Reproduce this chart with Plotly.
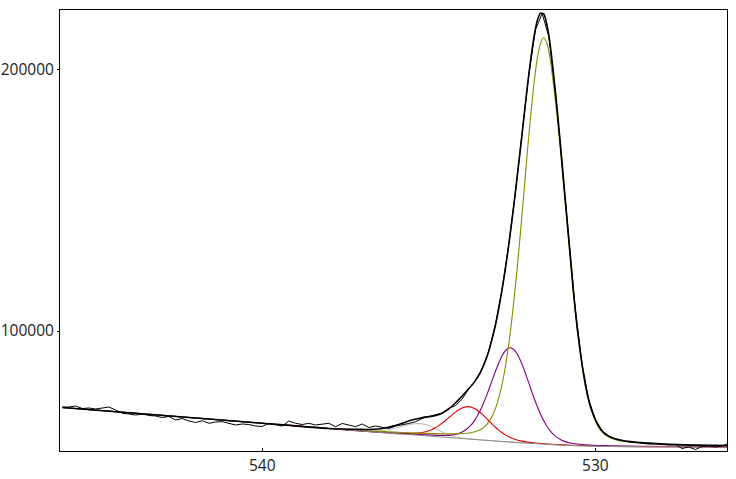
import plotly.graph_objects as go

# ---- Data (binding energy in eV, intensity in counts) ----
bg_E = [546.0, 544.0, 542.0, 540.0, 538.0, 536.0, 535.0, 534.0, 533.0, 532.0, 531.0, 530.0, 529.0, 528.0, 526.0]
bg_I = [70770, 68780, 66760, 64770, 62750, 60760, 59880, 58930, 57950, 57100, 56350, 55950, 55820, 55750, 55680]

# component 1 (olive, ~531.5 eV)
c1_E = [546.0, 540.0, 538.0, 536.05, 535.55, 535.05, 534.55, 534.15, 533.95, 533.75,
        533.55, 533.45, 533.35, 533.25, 533.15, 533.05, 532.95, 532.85, 532.75, 532.65,
        532.55, 532.45, 532.35, 532.25, 532.15, 532.05, 531.95, 531.85, 531.75, 531.65,
        531.55, 531.45, 531.35, 531.25, 531.15, 531.05, 530.95, 530.85, 530.75, 530.65,
        530.55, 530.45, 530.35, 530.25, 530.15, 530.05, 529.95, 529.85, 529.75, 529.65,
        529.55, 529.35, 529.15, 528.95, 528.55, 528.05, 527.55, 527.05, 526.05]
c1_I = [70770, 64770, 62750, 61380, 61090, 60880, 60720, 60730, 60810, 61140,
        61780, 62350, 63200, 64460, 66240, 68780, 72260, 76920, 82900, 90570,
        99970, 111060, 123710, 137600, 152270, 167250, 181300, 193810, 203670, 209810,
        212060, 209660, 203370, 193360, 182000, 169000, 155000, 141000, 127000, 113000,
        101000, 91000, 82500, 75800, 70700, 67170, 64340, 62190, 60830, 59860,
        59180, 58310, 57770, 57480, 57060, 56700, 56470, 56300, 56150]

# component 2 (purple, ~532.6 eV)
c2_E = [546.0, 540.0, 538.0, 536.05, 535.55, 535.05, 534.55, 534.35, 534.15, 534.05,
        533.95, 533.85, 533.75, 533.65, 533.55, 533.45, 533.35, 533.25, 533.15, 533.05,
        532.95, 532.85, 532.75, 532.65, 532.55, 532.45, 532.35, 532.25, 532.15, 532.05,
        531.95, 531.85, 531.75, 531.65, 531.55, 531.45, 531.35, 531.25, 531.15, 531.05,
        530.95, 530.75, 530.55, 530.05, 529.55, 528.55, 526.05]
c2_I = [70770, 64770, 62750, 61020, 60640, 60320, 60130, 60230, 60660, 61110,
        61760, 62650, 63810, 65400, 67430, 69850, 72710, 75900, 79360, 82870,
        86240, 89250, 91650, 93110, 93610, 92940, 91310, 88740, 85560, 82010,
        78320, 74690, 71330, 68300, 65700, 63500, 61730, 60400, 59340, 58520,
        57920, 57220, 56850, 56360, 56170, 55950, 55780]

# component 3 (red, ~533.8 eV)
c3_E = [546.0, 540.0, 538.0, 537.05, 536.3, 535.8, 535.4, 535.2, 535.0, 534.9,
        534.8, 534.7, 534.6, 534.5, 534.4, 534.3, 534.2, 534.1, 534.0, 533.9,
        533.8, 533.7, 533.6, 533.5, 533.4, 533.3, 533.2, 533.1, 533.0, 532.9,
        532.8, 532.7, 532.6, 532.4, 532.2, 531.8, 531.3, 530.5, 528.5, 526.05]
c3_I = [70770, 64770, 62750, 61780, 61170, 60840, 60880, 61190, 61880, 62410,
        63060, 63860, 64780, 65790, 66870, 67970, 69010, 69910, 70610, 71000,
        71090, 70810, 70220, 69330, 68230, 67010, 65710, 64440, 63230, 62130,
        61150, 60320, 59610, 58580, 57920, 57210, 56720, 56230, 55790, 55680]

# component 4 (silver, ~535.2 eV)
c4_E = [546.0, 540.0, 538.0, 537.05, 536.85, 536.65, 536.45, 536.25, 536.05, 535.85,
        535.65, 535.45, 535.25, 535.15, 535.05, 534.95, 534.85, 534.75, 534.65, 534.55,
        534.45, 534.35, 534.25, 534.05, 533.85, 533.5, 532.0, 530.0, 526.05]
c4_I = [70770, 64770, 62750, 61760, 61670, 61680, 61840, 62200, 62760, 63440,
        64100, 64540, 64600, 64420, 64080, 63590, 63010, 62370, 61740, 61140,
        60610, 60150, 59780, 59230, 58880, 58440, 57100, 55950, 55680]

# fitted envelope
env_E = [546.0, 542.0, 540.0, 538.0, 537.05, 536.85, 536.65, 536.45, 536.25, 536.05,
         535.85, 535.65, 535.45, 535.25, 535.05, 534.85, 534.65, 534.45, 534.25, 534.05,
         533.85, 533.65, 533.45, 533.25, 533.05, 532.95, 532.85, 532.75, 532.65, 532.55,
         532.45, 532.35, 532.25, 532.15, 532.05, 531.95, 531.85, 531.75, 531.65, 531.55,
         531.45, 531.35, 531.25, 531.15, 531.05, 530.95, 530.85, 530.75, 530.65, 530.55,
         530.45, 530.35, 530.25, 530.15, 530.05, 529.95, 529.85, 529.75, 529.65, 529.55,
         529.35, 529.15, 528.95, 528.55, 528.05, 527.55, 527.05, 526.05]
env_I = [70770, 66760, 64770, 62750, 62420, 62380, 62450, 62670, 63100, 63745,
         64550, 65390, 66150, 66770, 67180, 67540, 68310, 69740, 71920, 74460,
         77240, 80180, 84220, 90330, 99480, 105360, 112170, 119800, 128340, 137770,
         147840, 158620, 169780, 181170, 192560, 202910, 211790, 218330, 221480, 221190,
         216640, 208650, 197370, 185020, 171250, 156705, 142360, 128075, 113900, 101770,
         91685, 83120, 76360, 71205, 67630, 64770, 62590, 61205, 60213, 59520,
         58615, 58045, 57740, 57275, 56880, 56590, 56395, 56230]

# measured spectrum, 546.0 -> 526.0 eV in 0.2 eV steps
raw_E = [round(546.0 - 0.2 * k, 1) for k in range(101)]
raw_I = [70960, 70960, 71340, 70390, 70580, 70200, 70580, 70960, 69810, 68550,
         68290, 67900, 68290, 67710, 67520, 66950, 67330, 65990, 66570, 65610,
         65040, 65730, 64740, 65230, 65350, 64850, 64080, 64470, 64270, 63700,
         63510, 64740, 64080, 63700, 65610, 64740, 64270, 64740, 64080, 64270,
         64740, 63430, 64660, 64080, 63430, 64470, 63130, 63700, 63320, 62750,
         63700, 64080, 64660, 65350, 66570, 67330, 67900, 68670, 70500, 71500,
         74000, 77930, 81100, 85590, 92400, 102420, 115990, 133060, 153230, 175480,
         197740, 215060, 221340, 212650, 191200, 163970, 135220, 107840, 87400, 73780,
         66200, 61900, 59870, 58770, 58180, 57600, 57400, 57020, 56820, 57020,
         56630, 56440, 56630, 55100, 55680, 54720, 55870, 56060, 55680, 56060,
         57020]

x_ticks = [540, 530]
y_ticks = [100000, 200000]

fig = go.Figure()


def comp(E, I, color, width=1.1):
    fig.add_trace(go.Scatter(x=E, y=I, mode="lines",
                             line=dict(color=color, width=width, shape="spline", smoothing=0.6),
                             hoverinfo="skip"))


comp(c4_E, c4_I, "#c0c0c0")
comp(c3_E, c3_I, "#e00000")
comp(c2_E, c2_I, "#800080")
comp(c1_E, c1_I, "#8a8a00")
comp(bg_E, bg_I, "#8c8c8c")
fig.add_trace(go.Scatter(x=raw_E, y=raw_I, mode="lines",
                         line=dict(color="black", width=1), hoverinfo="skip"))
comp(env_E, env_I, "black", 1.6)

axis_common = dict(showgrid=False, zeroline=False, showline=True, linecolor="black",
                   linewidth=1, mirror=True, automargin=False,
                   tickfont=dict(family="Open Sans", size=15.5, color="#222222"))

fig.update_layout(
    width=736, height=479,
    margin=dict(l=60, r=9, t=10, b=28),
    paper_bgcolor="white", plot_bgcolor="white",
    showlegend=False,
    xaxis=dict(range=[546.07, 526.05], tickvals=x_ticks, ticktext=[str(v) for v in x_ticks],
               ticks="inside", ticklen=3, tickcolor="black", **axis_common),
    yaxis=dict(range=[54150, 222660], tickvals=y_ticks, ticktext=[str(v) for v in y_ticks],
               ticks="outside", ticklen=2, tickcolor="black", **axis_common),
)

fig.write_html("out.html", config={"displayModeBar": False},
               post_script="document.body.style.margin='0';document.body.style.overflow='hidden';")
